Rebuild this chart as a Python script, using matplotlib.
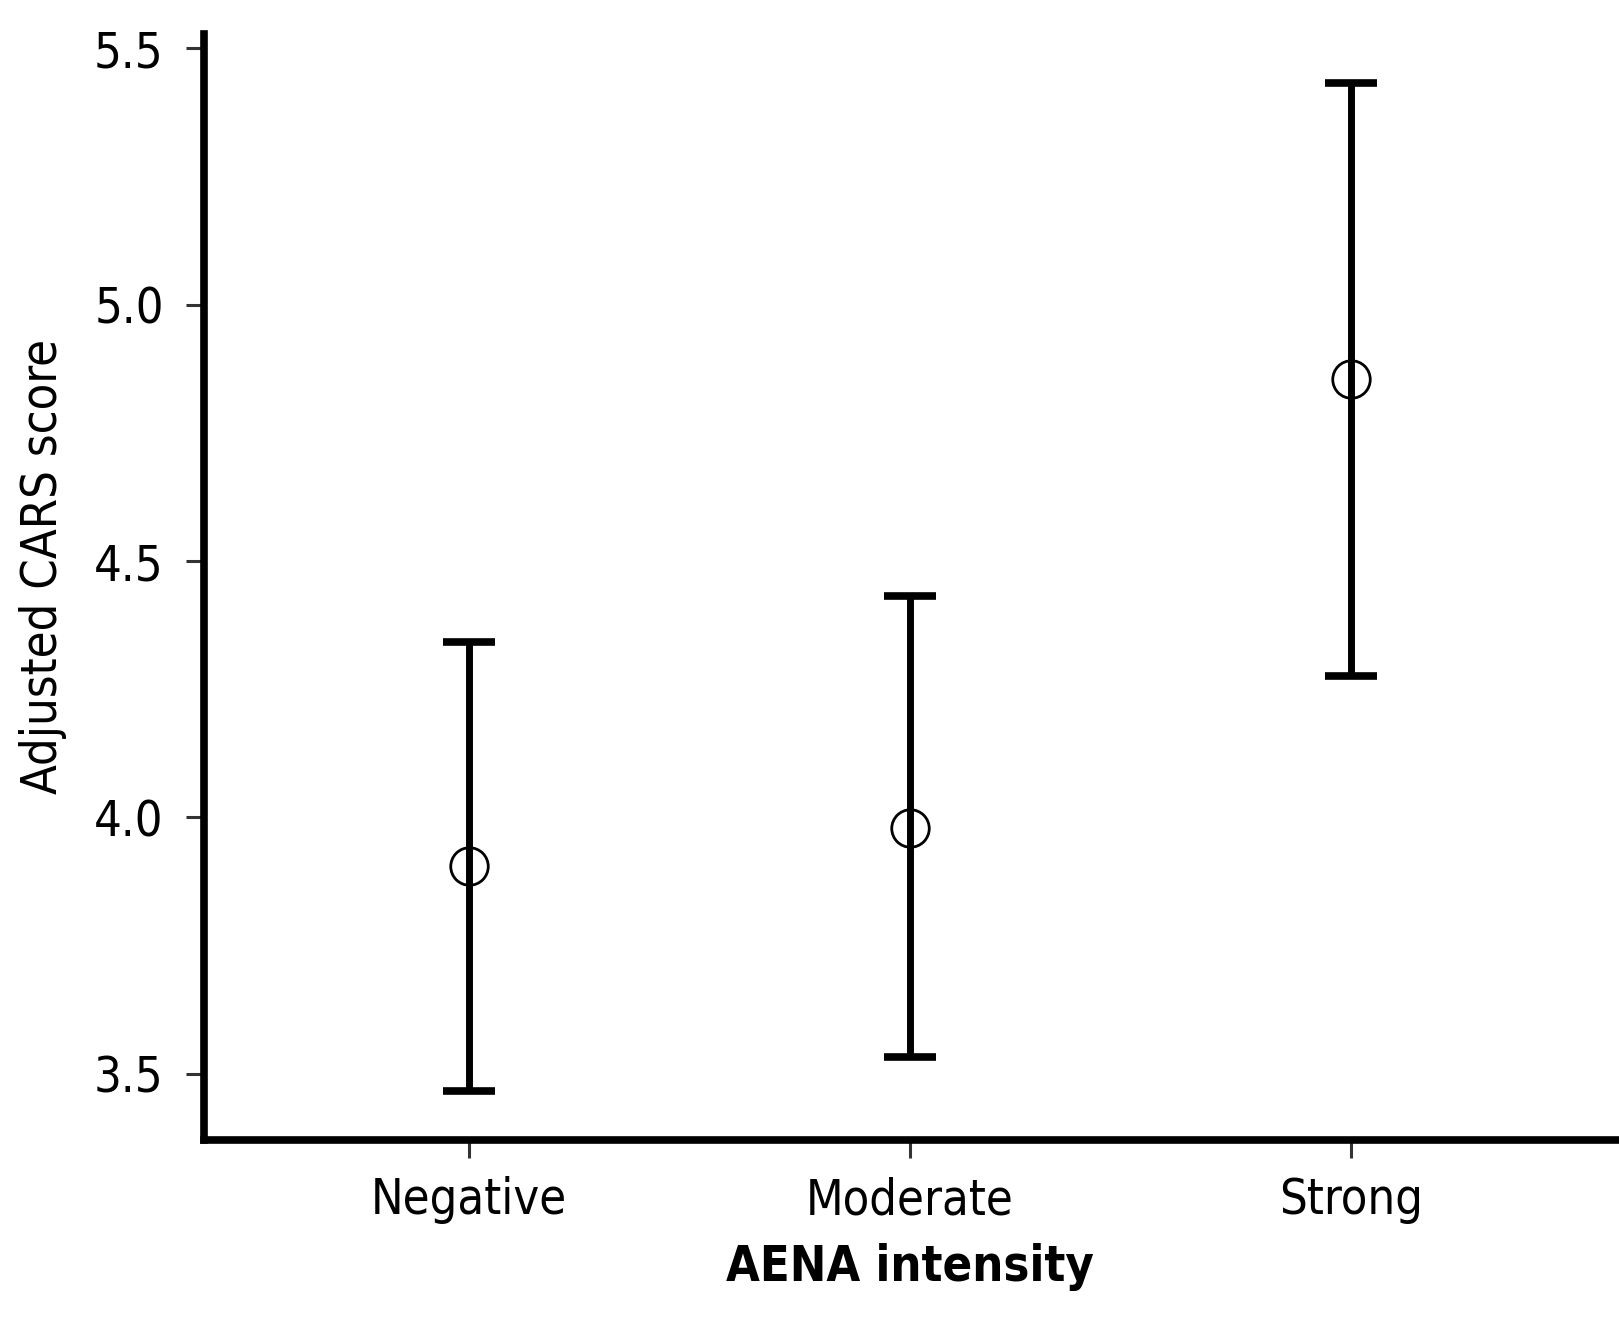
import matplotlib
matplotlib.use("Agg")
import numpy as np
import matplotlib.pyplot as plt


# data
categories = ["Negative", "Moderate", "Strong"]
means = [3.905, 3.980, 4.854]
ci_lower = [3.467, 3.533, 4.275]
ci_upper = [4.342, 4.432, 5.432]
y_ticks = [3.5, 4.0, 4.5, 5.0, 5.5]

plt.rcParams.update({'font.family': 'DejaVu Sans',
                     'font.stretch': 'condensed',
                     'font.size': 35})

x = np.arange(1, len(categories) + 1)
means = np.array(means)
yerr = [means - np.array(ci_lower), np.array(ci_upper) - means]

fig = plt.figure(figsize=(16.19, 13.18), dpi=100)
ax = fig.add_axes([0.126, 0.135, 0.872, 0.839])

ax.errorbar(x, means, yerr=yerr, fmt='none', ecolor='black',
            elinewidth=5, capsize=19, capthick=5.5, zorder=2)
ax.plot(x, means, linestyle='none', marker='o', markersize=27,
        markerfacecolor='none', markeredgecolor='black',
        markeredgewidth=2.0, zorder=3)

ax.set_xlim(0.4, 3.6)
ax.set_ylim(3.371, 5.527)
ax.set_xticks(x)
ax.set_xticklabels(categories)
ax.set_yticks(y_ticks)
ax.set_yticklabels([f"{t:.1f}" for t in y_ticks])

for side in ('top', 'right'):
    ax.spines[side].set_visible(False)
for side in ('left', 'bottom'):
    ax.spines[side].set_linewidth(5.5)
    ax.spines[side].set_color('black')

ax.tick_params(axis='both', direction='out', length=13, width=2.2,
               color='#333333', labelsize=35)
ax.tick_params(axis='x', pad=13)
ax.tick_params(axis='y', pad=16)

ax.set_xlabel("AENA intensity", fontweight='bold', fontsize=35)
ax.set_ylabel("Adjusted CARS score", fontsize=35)
ax.xaxis.set_label_coords(0.5, -0.093)
ax.yaxis.set_label_coords(-0.097, 0.519)

fig.savefig("out.png", dpi=100)
